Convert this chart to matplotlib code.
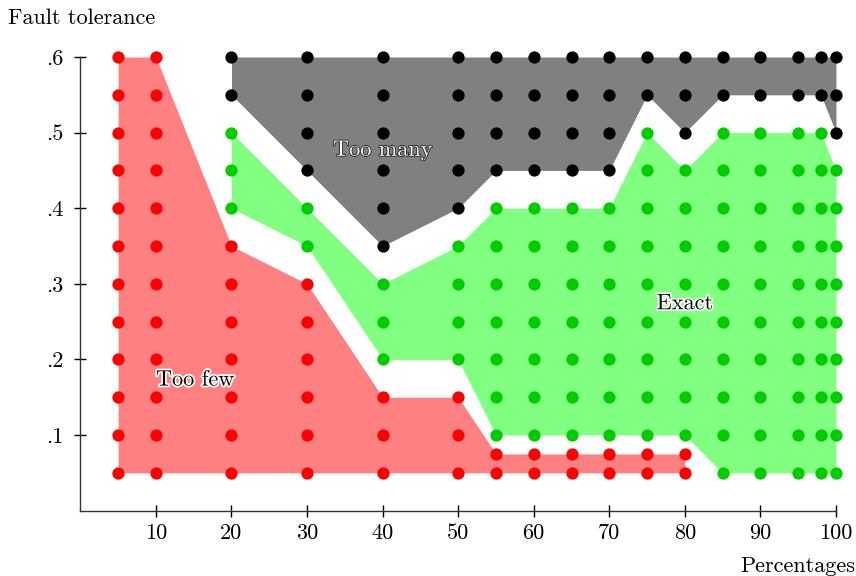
import matplotlib.pyplot as plt
import matplotlib.patheffects as pe

plt.rcParams["font.family"] = "serif"
plt.rcParams["font.serif"] = ["cmr10", "DejaVu Serif"]
plt.rcParams["axes.formatter.use_mathtext"] = True

# measured columns (percentages) and tolerance levels
cols = [5, 10, 20, 30, 40, 50, 55, 60, 65, 70, 75, 80, 85, 90, 95, 98, 100]
levels = [0.05, 0.1, 0.15, 0.2, 0.25, 0.3, 0.35, 0.4, 0.45, 0.5, 0.55, 0.6]

# region boundaries per column
red_cols = [5, 10, 20, 30, 40, 50, 55, 60, 65, 70, 75, 80]
red_top = [0.6, 0.6, 0.35, 0.3, 0.15, 0.15, 0.075, 0.075, 0.075, 0.075, 0.075, 0.075]

area_cols = [20, 30, 40, 50, 55, 60, 65, 70, 75, 80, 85, 90, 95, 98, 100]
green_lo = [0.4, 0.35, 0.2, 0.2, 0.1, 0.1, 0.1, 0.1, 0.1, 0.1, 0.05, 0.05, 0.05, 0.05, 0.05]
green_hi = [0.5, 0.4, 0.3, 0.35, 0.4, 0.4, 0.4, 0.4, 0.5, 0.45, 0.5, 0.5, 0.5, 0.5, 0.45]
black_lo = [0.55, 0.45, 0.35, 0.4, 0.45, 0.45, 0.45, 0.45, 0.55, 0.5, 0.55, 0.55, 0.55, 0.55, 0.5]
top = 0.6

xticks = [10, 20, 30, 40, 50, 60, 70, 80, 90, 100]
yticks = [0.1, 0.2, 0.3, 0.4, 0.5, 0.6]
ytick_labels = [".1", ".2", ".3", ".4", ".5", ".6"]

RED_FILL, RED_DOT = "#ff8080", "#ff0000"
GREEN_FILL, GREEN_DOT = "#80ff80", "#00cc00"
BLACK_FILL, BLACK_DOT = "#808080", "#000000"

FS = 16

fig = plt.figure(figsize=(8.56, 5.76), dpi=100)
ax = fig.add_axes([0.0939, 0.1135, 0.8827, 0.7875])

ax.fill_between(red_cols, 0.05, red_top, color=RED_FILL, lw=0, zorder=1)
ax.fill_between(area_cols, green_lo, green_hi, color=GREEN_FILL, lw=0, zorder=1)
ax.fill_between(area_cols, black_lo, top, color=BLACK_FILL, lw=0, zorder=1)

# sort every grid point into its region
red_pts, green_pts, black_pts = [], [], []
for x, t in zip(red_cols, red_top):
    for y in levels:
        if y <= t + 1e-9:
            red_pts.append((x, y))
    if abs(t - 0.075) < 1e-9:
        red_pts.append((x, 0.075))
for x, lo, hi, blo in zip(area_cols, green_lo, green_hi, black_lo):
    for y in levels:
        if lo - 1e-9 <= y <= hi + 1e-9:
            green_pts.append((x, y))
        elif y >= blo - 1e-9:
            black_pts.append((x, y))

for pts, c in [(red_pts, RED_DOT), (green_pts, GREEN_DOT), (black_pts, BLACK_DOT)]:
    xs = [p[0] for p in pts]
    ys = [p[1] for p in pts]
    ax.scatter(xs, ys, s=78, color=c, lw=0, zorder=3, clip_on=False)

halo = [pe.withStroke(linewidth=2.5, foreground="white")]
ax.text(40, 0.477, "Too many", ha="center", va="center", fontsize=FS,
        color="white", zorder=4,
        path_effects=[pe.withStroke(linewidth=1.2, foreground="#222222")])
ax.text(15.2, 0.173, "Too few", ha="center", va="center", fontsize=FS,
        color="black", zorder=4, path_effects=halo)
ax.text(80, 0.274, "Exact", ha="center", va="center", fontsize=FS,
        color="black", zorder=4, path_effects=halo)

ax.set_xlim(0, 100)
ax.set_ylim(0, 0.6)
ax.set_xticks(xticks)
ax.set_xticklabels([str(v) for v in xticks])
ax.set_yticks(yticks)
ax.set_yticklabels(ytick_labels)
ax.tick_params(direction="inout", length=9, width=1, labelsize=FS)
ax.tick_params(axis="x", pad=5)
ax.tick_params(axis="y", pad=8)
for side in ["top", "right"]:
    ax.spines[side].set_visible(False)
for side in ["left", "bottom"]:
    ax.spines[side].set_linewidth(1)
    ax.spines[side].set_color("#333333")

fig.text(8 / 856, 1 - 18 / 576, "Fault tolerance", ha="left", va="center", fontsize=FS)
fig.text(1 - 1 / 856, 1 - 566 / 576, "Percentages", ha="right", va="center", fontsize=FS)

fig.savefig("out.png", dpi=100)
